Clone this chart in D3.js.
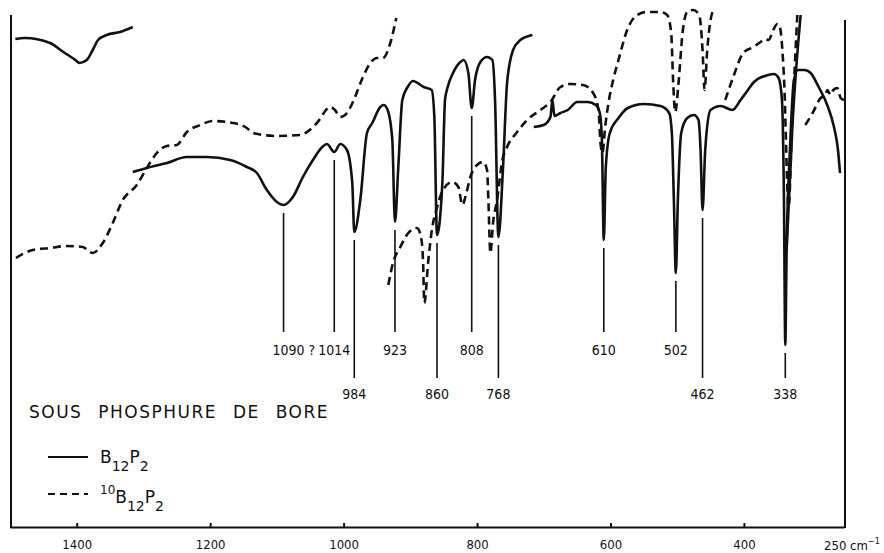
<!DOCTYPE html>
<html>
<head>
<meta charset="utf-8">
<script src="https://cdn.jsdelivr.net/npm/d3@7"></script>
<style>
  body { margin: 0; background: #fff; }
  svg { display: block; }
  .num { font-family: "DejaVu Sans Condensed", "DejaVu Sans", sans-serif; font-stretch: condensed; fill: #111; }
  .lab { font-family: "DejaVu Sans", sans-serif; fill: #111; }
</style>
</head>
<body>
<svg id="chart" width="884" height="553"></svg>
<script>
// spectra: [wavenumber cm-1, transmission %]
// B12P2 (solid), recorded in several pieces
const solidA = [[1492,97.6],[1478,97.8],[1440,96.8],[1420,95],[1402,93.4],[1396,92.8],[1385,93.4],[1376,95.4],[1368,97.4],[1355,98.4],[1335,99],[1316,100]];
const solidB = [[1316,71],[1295,71.8],[1265,72.8],[1235,74],[1205,74],[1170,73.4],[1145,72],[1130,70.8],[1115,67.4],[1098,64.8],[1090,64.4],[1076,66],[1061,70],[1046,73.4],[1032,76],[1025,76.6],[1014,75],[1005,76.6],[995,75.4],[987,68.8],[984,59],[975,65.4],[965,78.8],[957,80.8],[945,84],[940,84.4],[934,83.4],[927,77.4],[923,61],[918,72],[912,85.4],[904,88],[896,89.2],[880,88],[868,87.4],[864,82],[860,58.4],[852,68.8],[848,85.4],[844,88],[836,90.8],[825,93],[820,93.4],[813,90.8],[808,83.8],[803,89.4],[795,93],[785,94],[777,93.4],[773,85.4],[768,58],[761,72],[755,88.8],[746,95.4],[735,97.4],[717,98.4]];
const solidC = [[715,80],[700,80.4],[690,82],[687,85.4],[684,82.2],[675,82.8],[664,83.4],[650,85],[634,85],[622,84.4],[616,82.8],[613,78],[610,57.4],[607,72],[601,78.8],[588,81.8],[574,83.8],[550,84.6],[525,84.2],[512,82.8],[508,78.8],[505,65.4],[502,50.8],[499,65.4],[494,78.8],[485,81.8],[475,82.4],[468,81.4],[465,75.4],[462,63.4],[458,75.4],[450,83.4],[435,84.2],[417,83.4],[405,85.4],[394,87.4],[385,89],[364,90.4],[355,90.6],[348,89.8],[343,85.4],[340,65.4],[338,36.4],[336,55.4],[331,75.4],[325,89.4],[319,91.4],[309,91.4],[300,90.8],[288,88],[274,84],[265,80],[259,75.4],[256,70.8]];
const solidD = [[336,55.4],[327,81],[315,102.4]];

// 10B12P2 (dashed)
const dashedA = [[1491,53.8],[1466,55.4],[1440,55.8],[1415,56.2],[1391,56],[1376,54.8],[1361,56.8],[1346,60.8],[1331,65.4],[1310,68.4],[1295,71.8],[1280,74.8],[1265,76.2],[1250,76.4],[1235,79],[1215,80.4],[1196,81.2],[1166,80.8],[1145,79.8],[1136,78.8],[1100,78.2],[1065,78.4],[1055,79],[1040,80.8],[1020,84],[1013,83.4],[1005,82],[995,82.8],[986,85],[971,90],[960,92.8],[950,93.8],[941,93.8],[930,96.8],[921,101.8]];
const dashedB = [[933,48.4],[926,52.8],[915,56],[903,58.8],[890,59.8],[884,58],[881,53.4],[879,44.8],[873,53.4],[867,60],[861,63.4],[851,67.4],[837,69],[828,68],[822,64.4],[816,66.8],[810,70],[800,72.4],[791,73],[785,71.4],[783,65.4],[780,54.8],[776,60.8],[770,65.4],[762,73.4],[755,76],[740,79],[725,81.4],[705,83.4],[690,85],[675,88],[660,88.6],[641,88.4],[626,86.8],[618,83.4],[615,76.8],[612,74.8],[608,80],[603,84.8],[596,89.4],[588,93.4],[575,99.4],[560,102.4],[545,103],[525,103],[515,102.4],[509,98.8],[506,88.8],[503,83],[498,88.8],[492,98.8],[485,103],[476,103.4],[467,102.4],[462,95.4],[459,87.4],[455,95.4],[450,101.4],[444,103.8]];
const dashedC = [[428,85.4],[416,90],[401,94.8],[386,96],[375,97],[368,97.6],[363,97.4],[356,99.4],[350,100.6],[347,100.4],[340,90],[333,64],[328,80],[320,102.4]];
const dashedD = [[308,80.4],[297,82.8],[285,85.8],[278,86.4],[275,87.4],[270,86.4],[266,87.4],[260,87.8],[255,85.8],[250,85.4]];

// band assignments
const peakWn     = [1090, 1014, 984, 923, 860, 808, 768, 610, 502, 462, 338];
const peakLabels = ["1090 ?", "1014", "984", "923", "860", "808", "768", "610", "502", "462", "338"];
const peakRow    = [1, 1, 2, 1, 2, 1, 2, 1, 1, 2, 2];

const tickVals = [1400, 1200, 1000, 800, 600, 400];

const svg = d3.select("#chart");
const x = d3.scaleLinear().domain([1500, 250]).range([10, 844]);
const y = d3.scaleLinear().domain([0, 100]).range([527, 27]);

const line = d3.line()
    .x(d => x(d[0]))
    .y(d => y(d[1]))
    .curve(d3.curveMonotoneX);

// frame (left and right edges of the chart paper)
svg.append("line")
    .attr("x1", x(1500) + 1).attr("x2", x(1500) + 1)
    .attr("y1", y(102.4)).attr("y2", 528)
    .attr("stroke", "#111").attr("stroke-width", 2);
svg.append("line")
    .attr("x1", x(250) + 1).attr("x2", x(250) + 1)
    .attr("y1", y(101.4)).attr("y2", 528)
    .attr("stroke", "#111").attr("stroke-width", 2);

// bottom axis
const axisG = svg.append("g")
    .attr("transform", "translate(0,527)")
    .call(d3.axisBottom(x).tickValues(tickVals).tickFormat(d3.format("d"))
        .tickSize(-4).tickSizeOuter(0).tickPadding(13));
axisG.attr("font-family", null).attr("font-size", null);
axisG.select(".domain").attr("stroke", "#111").attr("stroke-width", 2);
axisG.selectAll(".tick line").attr("stroke", "#111").attr("stroke-width", 2);
axisG.selectAll(".tick text").attr("class", "num").style("font-size", "13px");

const unit = svg.append("text").attr("class", "num")
    .attr("x", x(250) - 20).attr("y", 550)
    .style("font-size", "13px");
unit.append("tspan").text("250 cm");
unit.append("tspan").attr("dy", -6).style("font-size", "9px").text("\u22121");

// spectra
const solids = [solidA, solidB, solidC, solidD];
const dashes = [dashedA, dashedB, dashedC, dashedD];

svg.append("g").selectAll("path")
    .data(solids)
    .join("path")
    .attr("d", line)
    .attr("fill", "none")
    .attr("stroke", "#111")
    .attr("stroke-width", 2.6)
    .attr("stroke-linejoin", "round");

svg.append("g").selectAll("path")
    .data(dashes)
    .join("path")
    .attr("d", line)
    .attr("fill", "none")
    .attr("stroke", "#111")
    .attr("stroke-width", 2.6)
    .attr("stroke-dasharray", "8,5");

// band markers: a line from under the solid dip down to the label
const allSolid = solids.slice(0, 3).flat();
const rowEnd = {1: 332, 2: 378};
const rowBase = {1: 355, 2: 399};

peakWn.forEach((wn, i) => {
    const dip = d3.least(allSolid, d => Math.abs(d[0] - wn));
    const px = x(wn);
    svg.append("line")
        .attr("x1", px).attr("x2", px)
        .attr("y1", y(dip[1]) + 8)
        .attr("y2", rowEnd[peakRow[i]])
        .attr("stroke", "#111").attr("stroke-width", 1.6);
    const t = svg.append("text").attr("class", "num")
        .attr("y", rowBase[peakRow[i]])
        .style("font-size", "14px")
        .text(peakLabels[i]);
    if (peakLabels[i].includes("?")) {
        t.attr("x", px - 11).attr("text-anchor", "start");
    } else {
        t.attr("x", px).attr("text-anchor", "middle");
    }
});

// title and legend
svg.append("text").attr("class", "lab")
    .attr("x", 29).attr("y", 418)
    .style("font-size", "17px")
    .style("letter-spacing", "1.5px")
    .style("word-spacing", "9px")
    .text("SOUS PHOSPHURE DE BORE");

const legend = [
    {dash: null, y: 457, sup: null, base: 463},
    {dash: "7,5", y: 494, sup: "10", base: 503}
];
legend.forEach(l => {
    svg.append("line")
        .attr("x1", 48).attr("x2", 88)
        .attr("y1", l.y).attr("y2", l.y)
        .attr("stroke", "#111").attr("stroke-width", 2)
        .attr("stroke-dasharray", l.dash);
    const t = svg.append("text").attr("class", "lab")
        .attr("x", 100).attr("y", l.base)
        .style("font-size", "17px");
    if (l.sup) {
        t.append("tspan").attr("dy", -9).style("font-size", "12px").text(l.sup);
        t.append("tspan").attr("dy", 9).text("B");
    } else {
        t.append("tspan").text("B");
    }
    t.append("tspan").attr("dy", 8).style("font-size", "14px").text("12");
    t.append("tspan").attr("dy", -8).text("P");
    t.append("tspan").attr("dy", 8).style("font-size", "14px").text("2");
});
</script>
</body>
</html>
